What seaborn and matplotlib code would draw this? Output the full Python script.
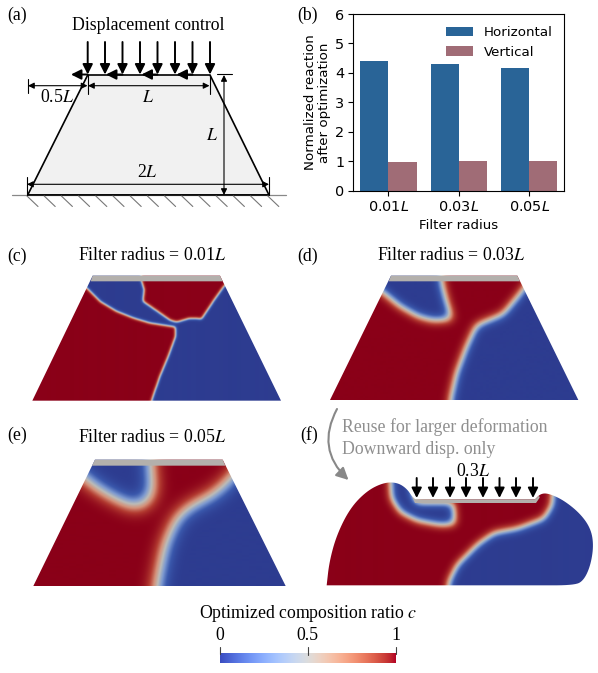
import numpy as np
import pandas as pd
import matplotlib
matplotlib.use('Agg')
import matplotlib.pyplot as plt
from matplotlib.colors import LinearSegmentedColormap
from matplotlib.patches import FancyArrowPatch, Polygon
from matplotlib.path import Path
import seaborn as sns

sns.set_style('ticks', rc={'text.color': 'k', 'axes.labelcolor': 'k', 'xtick.color': 'k', 'ytick.color': 'k',
                           'axes.edgecolor': 'k'})
plt.rcParams['font.family'] = ['DejaVu Sans']

# bar chart values
radii = ['0.01$L$', '0.03$L$', '0.05$L$']
horizontal = [4.42, 4.29, 4.18]
vertical = [0.98, 1.0, 1.0]

domain_c = [(278, 107), (660, 107), (843, 482), (97, 482)]
cap_c = [(278, 107), (660, 107), (668, 124), (272, 124)]
blue_c = [(272, 90), (422, 90), (424, 124), (432, 150), (428, 185), (470, 214), (510, 242), (530, 248),
          (570, 236), (605, 238), (640, 185), (672, 140), (700, 110), (900, 110), (900, 530), (452, 530),
          (455, 482), (480, 410), (505, 350), (527, 290), (527, 262), (450, 250), (400, 235), (350, 215),
          (300, 185), (264, 148), (230, 120)]

domain_d = [(303, 107), (682, 107), (865, 480), (120, 480)]
cap_d = [(303, 107), (682, 107), (690, 124), (296, 124)]
pocket_d = [(280, 40), (454, 40), (454, 124), (468, 180), (486, 236), (430, 240), (385, 228), (330, 197),
            (281, 157), (220, 110)]
right_d = [(695, 155), (640, 222), (560, 255), (530, 320), (500, 400), (482, 480), (478, 600), (1000, 600),
           (1000, 80), (750, 80)]

domain_e = [(285, 134), (668, 134), (857, 513), (100, 513)]
cap_e = [(285, 134), (668, 134), (676, 152), (276, 152)]
pocket_e = [(250, 40), (450, 40), (450, 152), (458, 228), (438, 268), (400, 276), (350, 253), (300, 225),
            (256, 192), (170, 110)]
right_e = [(695, 190), (640, 240), (570, 275), (530, 310), (495, 390), (470, 513), (465, 640), (1000, 640),
           (1000, 90), (760, 90)]

domain_f = [(80, 541), (80, 541), (80, 541), (88, 470), (110, 390), (150, 310), (200, 258), (250, 233), (290, 232),
            (320, 250), (340, 280), (345, 283), (345, 283), (705, 283), (705, 283), (722, 266), (745, 265), (790, 285),
            (840, 325), (872, 370), (881, 420), (872, 480), (852, 525), (825, 541), (700, 541), (700, 541), (200, 541),
            (200, 541)]
cap_f = [(336, 274), (346, 283), (705, 283), (717, 272), (719, 278), (708, 294), (345, 294)]
pocket_f = [(268, 180), (320, 180), (338, 270), (345, 294), (458, 294), (462, 357), (420, 360), (350, 347),
            (300, 322), (273, 280)]
right_f = [(760, 210), (860, 210), (1000, 380), (1000, 660), (435, 660), (445, 530), (470, 480), (530, 420),
           (580, 385), (650, 372), (730, 342), (755, 300)]

# panel (a) geometry in figure px
trapezoid = [(27.7, 195), (87.7, 75), (210, 75), (269, 195)]
load_x = [87.7, 105, 122.5, 140, 157.5, 175, 192.5, 210]
shear_x = [(87.7, 71), (122.5, 106), (157.5, 141.5), (192.5, 176.5)]
f_load_x = [416.7, 433, 450, 466, 483, 499.5, 516, 533]

cool_warm = sns.color_palette('coolwarm', as_cmap=True)
field_cmap = LinearSegmentedColormap.from_list(
    'field', ['#2d3c90', '#3a58ac', '#7b98d0', '#bcbcb8', '#d49078', '#b23a30', '#8a0018'])


def crop(points, dx, dy):
    return [(x / 3 + dx, y / 3 + dy) for x, y in points]


def chaikin(points, n=3):
    pts = np.array(points, dtype=float)
    for _ in range(n):
        nxt = np.roll(pts, -1, axis=0)
        pts = np.column_stack([0.75 * pts + 0.25 * nxt, 0.25 * pts + 0.75 * nxt]).reshape(-1, 2)
    return pts


def blur(img, sigma):
    r = int(4 * sigma) + 1
    k = np.exp(-0.5 * (np.arange(-r, r + 1) / sigma) ** 2)
    k /= k.sum()
    img = np.apply_along_axis(lambda v: np.convolve(v, k, mode='same'), 0, img)
    return np.apply_along_axis(lambda v: np.convolve(v, k, mode='same'), 1, img)


def field(ax, domain, cap, blues, sigma):
    xs, ys = zip(*[tuple(p) for p in domain])
    x = np.arange(min(xs) - 60, max(xs) + 60, 0.5)
    y = np.arange(min(ys) - 60, max(ys) + 60, 0.5)
    gx, gy = np.meshgrid(x, y)
    grid = np.column_stack([gx.ravel(), gy.ravel()])
    c = np.ones(gx.shape)
    for poly in blues:
        c[Path(poly).contains_points(grid).reshape(gx.shape)] = 0
    c = np.clip(blur(c, sigma * 2), 0, 1)
    outline = Polygon(domain, closed=True, fc='none', ec='none', transform=ax.transData)
    ax.add_patch(outline)
    im = ax.imshow(c, cmap=field_cmap, vmin=0, vmax=1, aspect='auto', origin='upper',
                   extent=(x[0], x[-1], y[-1], y[0]), zorder=1)
    im.set_clip_path(outline)
    ax.add_patch(Polygon(cap, closed=True, fc='#b3b0ac', ec='none', zorder=2))


def arrow(ax, start, end, style='-|>', lw=1.4, scale=12, color='k', **kw):
    ax.add_patch(FancyArrowPatch(start, end, arrowstyle=style, lw=lw, mutation_scale=scale, color=color,
                                 shrinkA=0, shrinkB=0, zorder=5, **kw))


fig = plt.figure(figsize=(5.98, 6.73), dpi=100)
ax = fig.add_axes([0, 0, 1, 1])
ax.set_axis_off()

serif = dict(family='Liberation Serif', math_fontfamily='stix', ha='center', va='center', fontsize=12.8)

# (a) schematic
ax.add_patch(Polygon(trapezoid, closed=True, fc='#f1f1f1', ec='k', lw=1.2, joinstyle='miter'))
ax.plot([12, 286], [195, 195], color='#888888', lw=0.9)
ax.plot([27.7, 269], [195, 195], color='k', lw=1.1)
for x0 in np.arange(27, 270, 17.2):
    ax.plot([x0, x0 + 11], [196, 206.5], color='#777777', lw=0.8)
for x0 in load_x:
    arrow(ax, (x0, 42), (x0, 74.5), style='-|>,head_length=0.5,head_width=0.25')
for x0, x1 in shear_x:
    arrow(ax, (x0, 74.5), (x1, 74.5), style='-|>,head_length=0.5,head_width=0.25')
dim = '<|-|>,head_length=0.4,head_width=0.2'
arrow(ax, (28, 85.7), (87.5, 85.7), style=dim, lw=0.8, scale=9)
arrow(ax, (88, 85.7), (209.5, 85.7), style=dim, lw=0.8, scale=9)
arrow(ax, (224, 75), (224, 195), style=dim, lw=0.8, scale=9)
arrow(ax, (27, 184.3), (269, 184.3), style=dim, lw=0.8, scale=9)
ax.plot([28, 28], [79, 93], color='k', lw=0.8)
ax.plot([87.5, 87.5], [75, 94], color='k', lw=0.8)
ax.plot([209.8, 209.8], [75, 94], color='k', lw=0.8)
ax.plot([216.7, 231.7], [74, 74], color='k', lw=0.8)
ax.plot([27, 27], [177, 195], color='k', lw=0.8)
ax.plot([268.7, 268.7], [177, 195], color='k', lw=0.8)
ax.text(148.5, 25.5, 'Displacement control', **serif)
ax.text(57, 98, '0.5$L$', **serif)
ax.text(148, 98, '$L$', **serif)
ax.text(212, 136, '$L$', **serif)
ax.text(147, 172.5, '2$L$', **serif)

# (c)-(f) composition fields
field(ax, crop(domain_c, 0, 240), crop(cap_c, 0, 240), [crop(blue_c, 0, 240)], 1.6)
field(ax, crop(domain_d, 290, 240), crop(cap_d, 290, 240), [crop(pocket_d, 290, 240), crop(right_d, 290, 240)], 5)
field(ax, crop(domain_e, 0, 415), crop(cap_e, 0, 415), [crop(pocket_e, 0, 415), crop(right_e, 0, 415)], 9)
field(ax, chaikin(crop(domain_f, 300, 405), 3), crop(cap_f, 300, 405), [crop(pocket_f, 300, 405), crop(right_f, 300, 405)], 4.5)

ax.text(152, 256, 'Filter radius = 0.01$L$', **serif)
ax.text(450.7, 256, 'Filter radius = 0.03$L$', **serif)
ax.text(152, 437.5, 'Filter radius = 0.05$L$', **serif)
for label, lx, ly in [('(a)', 7, 15), ('(b)', 297, 15), ('(c)', 7, 256), ('(d)', 297, 256), ('(e)', 7, 435), ('(f)', 300, 435)]:
    ax.text(lx, ly, label, **{**serif, 'ha': 'left'})

# (f) annotations
ax.text(341.5, 427.5, 'Reuse for larger deformation', color='#8f8f8f', **{**serif, 'ha': 'left'})
ax.text(341.5, 450, 'Downward disp. only', color='#8f8f8f', **{**serif, 'ha': 'left'})
ax.text(473, 472, '0.3$L$', **serif)
arrow(ax, (337, 409), (348.5, 480), color='#888888', lw=1.5, scale=12,
      style='-|>,head_length=0.6,head_width=0.3', connectionstyle='arc3,rad=0.38')
for x0 in f_load_x:
    arrow(ax, (x0, 478), (x0, 498), style='-|>,head_length=0.5,head_width=0.25')

# colour bar
gradient = np.linspace(0, 1, 256).reshape(1, -1)
ax.imshow(gradient, cmap=cool_warm, aspect='auto', extent=(220, 396, 662.7, 652.7), zorder=1)
for x0, y1 in [(220, 654), (307.5, 655), (396, 654)]:
    ax.plot([x0, x0], [646.5, y1], color='#444444', lw=0.8, zorder=2)
ax.text(308.5, 613, 'Optimized composition ratio $c$', **serif)
ax.text(220, 636, '0', **serif)
ax.text(307.5, 636, '0.5', **serif)
ax.text(396, 636, '1', **serif)
ax.set_xlim(0, 598)
ax.set_ylim(673, 0)

# (b) bar chart
bars = pd.DataFrame({
    'radius': radii * 2,
    'kind': ['Horizontal'] * 3 + ['Vertical'] * 3,
    'reaction': horizontal + vertical,
})
ax_b = fig.add_axes([353.3 / 598, 1 - 190.7 / 673, 211 / 598, 176.7 / 673])
sns.barplot(data=bars, x='radius', y='reaction', hue='kind', palette=['#296497', '#a06c76'], saturation=1,
            linewidth=0, ax=ax_b)
ax_b.set_ylim(0, 6)
ax_b.set_xlabel('Filter radius', fontsize=9.6, labelpad=4)
ax_b.set_ylabel('Normalized reaction\nafter optimization', fontsize=9.6, labelpad=3, linespacing=1.1)
ax_b.tick_params(labelsize=10.4, length=3.5, width=0.8, pad=3)
ax_b.legend(frameon=False, fontsize=9.6, loc='upper right', title=None)

fig.savefig('out.png', dpi=100)
